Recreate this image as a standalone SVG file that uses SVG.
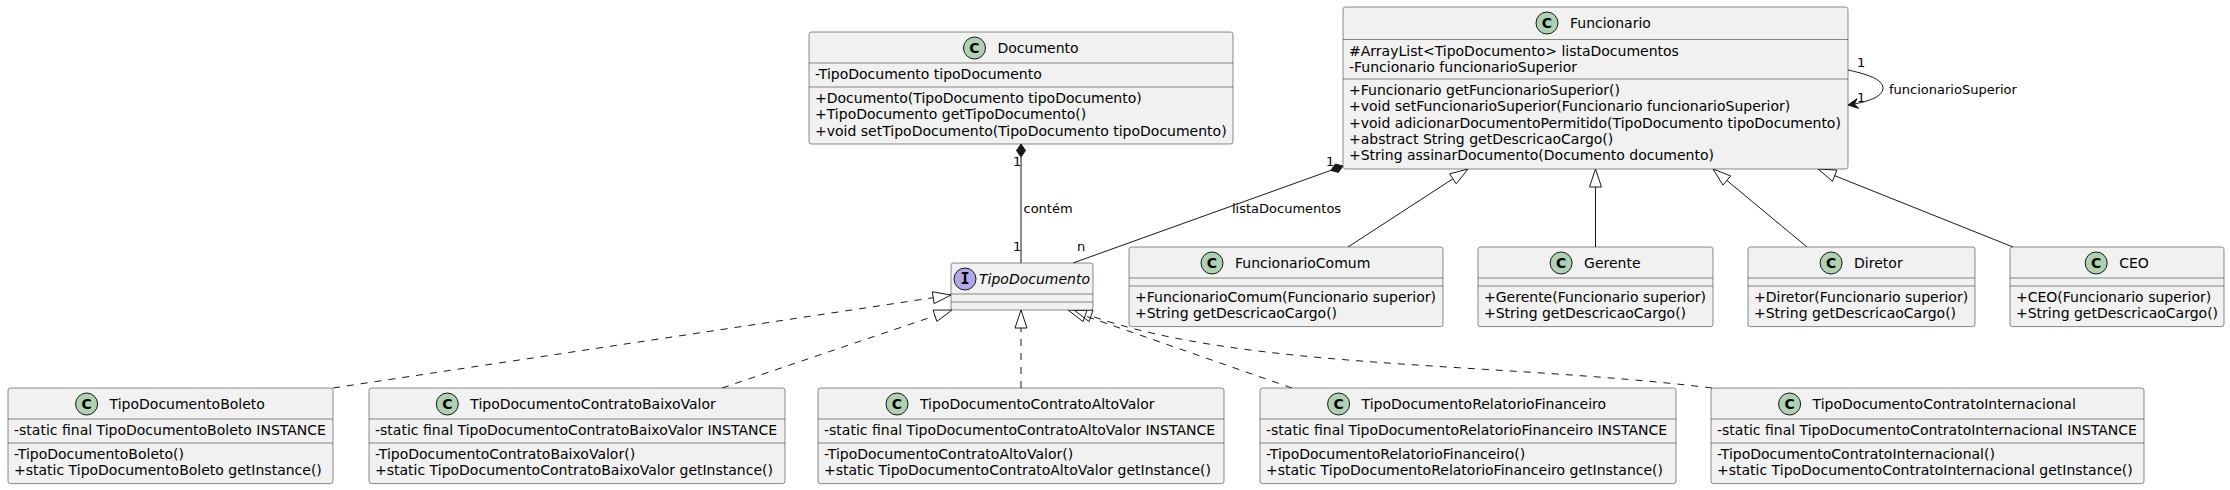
<svg xmlns="http://www.w3.org/2000/svg" width="2230" height="490" viewBox="0 0 2230 490">
<style>
.bg{fill:#FFFFFF}
.box{fill:#F1F1F1;stroke:#181818;stroke-width:0.5}
.dv{stroke:#181818;stroke-width:0.5}
.t{font-family:'DejaVu Sans',sans-serif;font-size:14px;fill:#000000}
.it{font-style:italic}
.lb{font-family:'DejaVu Sans',sans-serif;font-size:13px;fill:#000000}
.cc{fill:#ADD1B2;stroke:#181818;stroke-width:1}
.ci{fill:#B4A7E5;stroke:#181818;stroke-width:1}
.cl{font-family:'DejaVu Sans',sans-serif;font-size:14px;font-weight:bold;fill:#000000;text-anchor:middle}
.il{font-family:'DejaVu Sans Mono',monospace;font-size:15px;font-weight:bold;fill:#000000;text-anchor:middle}
.e{stroke:#181818;stroke-width:1;fill:none}
.d{stroke-dasharray:7,7}
.tri{fill:none;stroke:#181818;stroke-width:1}
.fill{fill:#181818;stroke:#181818;stroke-width:1}
</style>
<rect class="bg" x="0" y="0" width="2230" height="490"/>

<g id="connectors">
  <line class="e" x1="1021" y1="157" x2="1021" y2="263"/>
  <polygon class="fill" points="1021,144 1025.5,150.5 1021,157 1016.5,150.5"/>
  <text class="lb" x="1013" y="166">1</text>
  <text class="lb" x="1023.5" y="213">contém</text>
  <text class="lb" x="1013" y="251">1</text>
  <text class="lb" x="1077" y="251">n</text>

  <line class="e" x1="1330.8" y1="170.4" x2="1073" y2="263"/>
  <polygon class="fill" points="1343,166 1338.4,172.4 1330.8,170.4 1335.4,164"/>
  <text class="lb" x="1326" y="166">1</text>
  <text class="lb" x="1232" y="213">listaDocumentos</text>

  <path class="e" d="M1848,70 C1866,74 1883,79 1883,88 C1883,97 1867,102 1849,105"/>
  <polygon class="fill" points="1848,105 1858.7,108.4 1854.5,104 1857,98.6"/>
  <text class="lb" x="1857" y="66.5">1</text>
  <text class="lb" x="1857" y="101.5">1</text>
  <text class="lb" x="1889" y="93.5">funcionarioSuperior</text>

  <line class="e" x1="1348" y1="247" x2="1452.9" y2="178.8"/>
  <polygon class="tri" points="1468,169 1456.2,183.8 1449.6,173.8"/>
  <line class="e" x1="1595.5" y1="247" x2="1595.5" y2="187"/>
  <polygon class="tri" points="1595.5,169 1589.5,187 1601.5,187"/>
  <line class="e" x1="1807" y1="247" x2="1726.9" y2="180.5"/>
  <polygon class="tri" points="1713,169 1723,185.1 1730.7,175.9"/>
  <line class="e" x1="2013" y1="247" x2="1834.7" y2="175.7"/>
  <polygon class="tri" points="1818,169 1832.5,181.3 1836.9,170.1"/>

  <line class="e d" x1="333" y1="388" x2="933.2" y2="297.7"/>
  <polygon class="tri" points="951,295 934.1,303.6 932.3,291.8"/>
  <line class="e d" x1="722" y1="388" x2="935" y2="315.8"/>
  <polygon class="tri" points="952,310 936.9,321.5 933,310.1"/>
  <line class="e d" x1="1021" y1="388" x2="1021" y2="328"/>
  <polygon class="tri" points="1021,310 1015,328 1027,328"/>
  <line class="e d" x1="1292" y1="388" x2="1085" y2="315.9"/>
  <polygon class="tri" points="1068,310 1083,321.6 1087,310.3"/>
  <path class="e d" d="M1712,388 C1500,362 1246,370 1091,315.9"/>
  <polygon class="tri" points="1074,310 1089.1,321.6 1093,310.2"/>
</g>

<g id="Documento">
  <rect class="box" x="809" y="32" width="424" height="112" rx="2.5"/>
  <circle class="cc" cx="974.5" cy="48" r="11"/>
  <text class="cl" x="974.5" y="53">C</text>
  <text class="t" x="997.5" y="53">Documento</text>
  <line class="dv" x1="809" y1="63" x2="1233" y2="63"/>
  <text class="t" x="815" y="79">-TipoDocumento tipoDocumento</text>
  <line class="dv" x1="809" y1="87" x2="1233" y2="87"/>
  <text class="t" x="815" y="103">+Documento(TipoDocumento tipoDocumento)</text>
  <text class="t" x="815" y="119.3">+TipoDocumento getTipoDocumento()</text>
  <text class="t" x="815" y="135.6">+void setTipoDocumento(TipoDocumento tipoDocumento)</text>
</g>

<g id="Funcionario">
  <rect class="box" x="1343" y="7" width="505" height="162" rx="2.5"/>
  <circle class="cc" cx="1547" cy="23" r="11"/>
  <text class="cl" x="1547" y="28">C</text>
  <text class="t" x="1570" y="28">Funcionario</text>
  <line class="dv" x1="1343" y1="39.5" x2="1848" y2="39.5"/>
  <text class="t" x="1349" y="55.5">#ArrayList&lt;TipoDocumento&gt; listaDocumentos</text>
  <text class="t" x="1349" y="71.8">-Funcionario funcionarioSuperior</text>
  <line class="dv" x1="1343" y1="79" x2="1848" y2="79"/>
  <text class="t" x="1349" y="95">+Funcionario getFuncionarioSuperior()</text>
  <text class="t" x="1349" y="111.3">+void setFuncionarioSuperior(Funcionario funcionarioSuperior)</text>
  <text class="t" x="1349" y="127.6">+void adicionarDocumentoPermitido(TipoDocumento tipoDocumento)</text>
  <text class="t" x="1349" y="143.9">+abstract String getDescricaoCargo()</text>
  <text class="t" x="1349" y="160.2">+String assinarDocumento(Documento documento)</text>
</g>

<g id="TipoDocumento">
  <rect class="box" x="951" y="263" width="142" height="47" rx="2.5"/>
  <circle class="ci" cx="965" cy="279" r="11"/>
  <text class="il" x="965" y="284">I</text>
  <text class="t it" x="979" y="284">TipoDocumento</text>
  <line class="dv" x1="951" y1="294" x2="1093" y2="294"/>
  <line class="dv" x1="951" y1="302" x2="1093" y2="302"/>
</g>

<g id="FuncionarioComum">
  <rect class="box" x="1129" y="247" width="314" height="79.6" rx="2.5"/>
  <circle class="cc" cx="1212" cy="263" r="11"/>
  <text class="cl" x="1212" y="268">C</text>
  <text class="t" x="1235" y="268">FuncionarioComum</text>
  <line class="dv" x1="1129" y1="278" x2="1443" y2="278"/>
  <line class="dv" x1="1129" y1="286" x2="1443" y2="286"/>
  <text class="t" x="1135" y="302">+FuncionarioComum(Funcionario superior)</text>
  <text class="t" x="1135" y="318.3">+String getDescricaoCargo()</text>
</g>

<g id="Gerente">
  <rect class="box" x="1478" y="247" width="235" height="79.6" rx="2.5"/>
  <circle class="cc" cx="1561.1" cy="263" r="11"/>
  <text class="cl" x="1561.1" y="268">C</text>
  <text class="t" x="1584.1" y="268">Gerente</text>
  <line class="dv" x1="1478" y1="278" x2="1713" y2="278"/>
  <line class="dv" x1="1478" y1="286" x2="1713" y2="286"/>
  <text class="t" x="1484" y="302">+Gerente(Funcionario superior)</text>
  <text class="t" x="1484" y="318.3">+String getDescricaoCargo()</text>
</g>

<g id="Diretor">
  <rect class="box" x="1748" y="247" width="227" height="79.6" rx="2.5"/>
  <circle class="cc" cx="1831.1" cy="263" r="11"/>
  <text class="cl" x="1831.1" y="268">C</text>
  <text class="t" x="1854.1" y="268">Diretor</text>
  <line class="dv" x1="1748" y1="278" x2="1975" y2="278"/>
  <line class="dv" x1="1748" y1="286" x2="1975" y2="286"/>
  <text class="t" x="1754" y="302">+Diretor(Funcionario superior)</text>
  <text class="t" x="1754" y="318.3">+String getDescricaoCargo()</text>
</g>

<g id="CEO">
  <rect class="box" x="2010" y="247" width="214" height="79.6" rx="2.5"/>
  <circle class="cc" cx="2096.2" cy="263" r="11"/>
  <text class="cl" x="2096.2" y="268">C</text>
  <text class="t" x="2119.2" y="268">CEO</text>
  <line class="dv" x1="2010" y1="278" x2="2224" y2="278"/>
  <line class="dv" x1="2010" y1="286" x2="2224" y2="286"/>
  <text class="t" x="2016" y="302">+CEO(Funcionario superior)</text>
  <text class="t" x="2016" y="318.3">+String getDescricaoCargo()</text>
</g>

<g id="TipoDocumentoBoleto">
  <rect class="box" x="8" y="388" width="325" height="95.6" rx="2.5"/>
  <circle class="cc" cx="86.6" cy="404" r="11"/>
  <text class="cl" x="86.6" y="409">C</text>
  <text class="t" x="109.6" y="409">TipoDocumentoBoleto</text>
  <line class="dv" x1="8" y1="419" x2="333" y2="419"/>
  <text class="t" x="14" y="435">-static final TipoDocumentoBoleto INSTANCE</text>
  <line class="dv" x1="8" y1="443" x2="333" y2="443"/>
  <text class="t" x="14" y="459">-TipoDocumentoBoleto()</text>
  <text class="t" x="14" y="475.3">+static TipoDocumentoBoleto getInstance()</text>
</g>

<g id="TipoDocumentoContratoBaixoValor">
  <rect class="box" x="369" y="388" width="416" height="95.6" rx="2.5"/>
  <circle class="cc" cx="447.3" cy="404" r="11"/>
  <text class="cl" x="447.3" y="409">C</text>
  <text class="t" x="470.3" y="409">TipoDocumentoContratoBaixoValor</text>
  <line class="dv" x1="369" y1="419" x2="785" y2="419"/>
  <text class="t" x="375" y="435">-static final TipoDocumentoContratoBaixoValor INSTANCE</text>
  <line class="dv" x1="369" y1="443" x2="785" y2="443"/>
  <text class="t" x="375" y="459">-TipoDocumentoContratoBaixoValor()</text>
  <text class="t" x="375" y="475.3">+static TipoDocumentoContratoBaixoValor getInstance()</text>
</g>

<g id="TipoDocumentoContratoAltoValor">
  <rect class="box" x="818" y="388" width="406" height="95.6" rx="2.5"/>
  <circle class="cc" cx="897" cy="404" r="11"/>
  <text class="cl" x="897" y="409">C</text>
  <text class="t" x="920" y="409">TipoDocumentoContratoAltoValor</text>
  <line class="dv" x1="818" y1="419" x2="1224" y2="419"/>
  <text class="t" x="824" y="435">-static final TipoDocumentoContratoAltoValor INSTANCE</text>
  <line class="dv" x1="818" y1="443" x2="1224" y2="443"/>
  <text class="t" x="824" y="459">-TipoDocumentoContratoAltoValor()</text>
  <text class="t" x="824" y="475.3">+static TipoDocumentoContratoAltoValor getInstance()</text>
</g>

<g id="TipoDocumentoRelatorioFinanceiro">
  <rect class="box" x="1260" y="388" width="416" height="95.6" rx="2.5"/>
  <circle class="cc" cx="1338.6" cy="404" r="11"/>
  <text class="cl" x="1338.6" y="409">C</text>
  <text class="t" x="1361.6" y="409">TipoDocumentoRelatorioFinanceiro</text>
  <line class="dv" x1="1260" y1="419" x2="1676" y2="419"/>
  <text class="t" x="1266" y="435">-static final TipoDocumentoRelatorioFinanceiro INSTANCE</text>
  <line class="dv" x1="1260" y1="443" x2="1676" y2="443"/>
  <text class="t" x="1266" y="459">-TipoDocumentoRelatorioFinanceiro()</text>
  <text class="t" x="1266" y="475.3">+static TipoDocumentoRelatorioFinanceiro getInstance()</text>
</g>

<g id="TipoDocumentoContratoInternacional">
  <rect class="box" x="1711" y="388" width="433" height="95.6" rx="2.5"/>
  <circle class="cc" cx="1789.6" cy="404" r="11"/>
  <text class="cl" x="1789.6" y="409">C</text>
  <text class="t" x="1812.6" y="409">TipoDocumentoContratoInternacional</text>
  <line class="dv" x1="1711" y1="419" x2="2144" y2="419"/>
  <text class="t" x="1717" y="435">-static final TipoDocumentoContratoInternacional INSTANCE</text>
  <line class="dv" x1="1711" y1="443" x2="2144" y2="443"/>
  <text class="t" x="1717" y="459">-TipoDocumentoContratoInternacional()</text>
  <text class="t" x="1717" y="475.3">+static TipoDocumentoContratoInternacional getInstance()</text>
</g>
</svg>
